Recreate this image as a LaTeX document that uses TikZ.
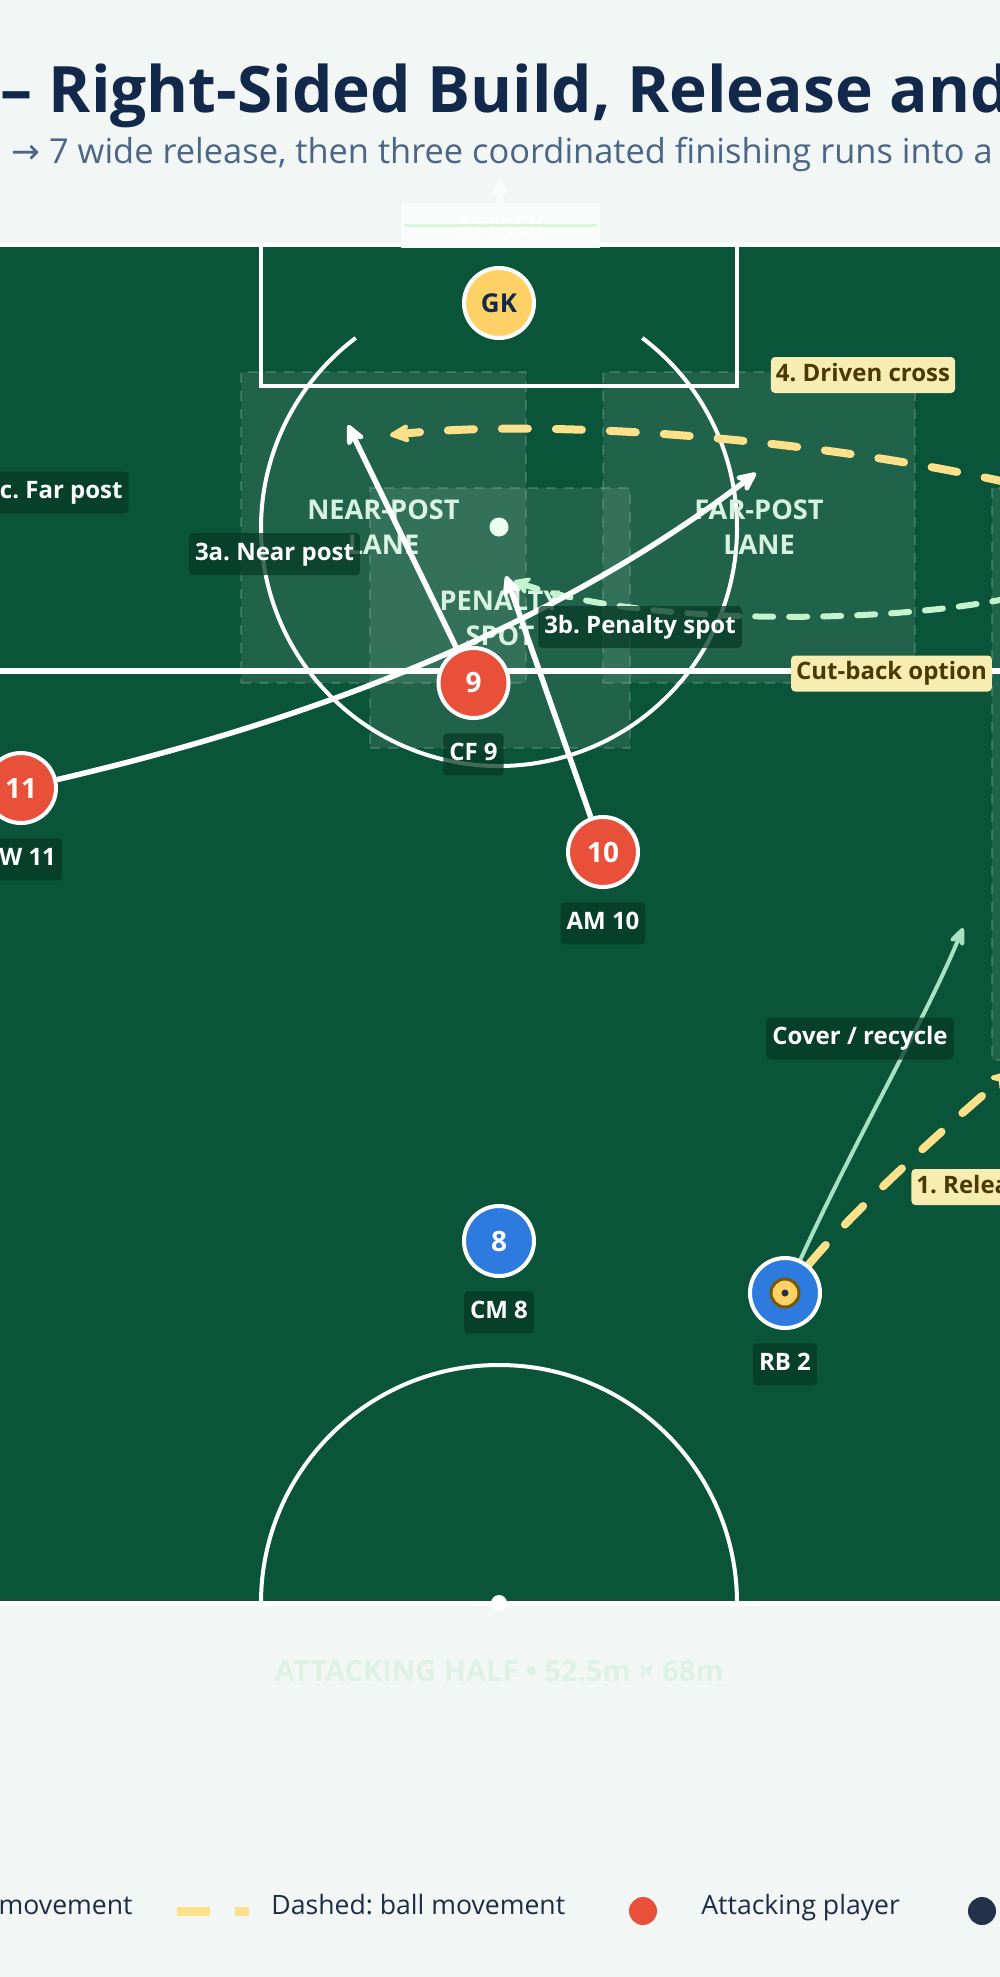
\documentclass[tikz,border=0pt]{standalone}
\usepackage{fontspec}
\setmainfont{Open Sans}
\newfontfamily\arrowfont{DejaVu Sans}
\usetikzlibrary{arrows.meta}
\usetikzlibrary{calc}
\usetikzlibrary{positioning}

\definecolor{paper}{HTML}{F2F6F5}
\definecolor{grass}{HTML}{0A5439}
\definecolor{navy}{HTML}{13294B}
\definecolor{slate}{HTML}{4C6687}
\definecolor{attred}{HTML}{E8503A}
\definecolor{midblue}{HTML}{2E7BE0}
\definecolor{keeper}{HTML}{FFD166}
\definecolor{ballyel}{HTML}{FDE08A}
\definecolor{cutgreen}{HTML}{C4F3CE}
\definecolor{covergreen}{HTML}{A6E1C1}
\definecolor{notefill}{HTML}{F8EDB0}
\definecolor{notetext}{HTML}{4A3900}
\definecolor{tagfill}{HTML}{073A26}
\definecolor{lanetext}{HTML}{D8F2E1}
\definecolor{halftext}{HTML}{DDF2E5}
\definecolor{legendtext}{HTML}{1D2C47}
\definecolor{defnavy}{HTML}{22324A}
\definecolor{balledge}{HTML}{7A5800}

\pgfdeclarelayer{back}
\pgfdeclarelayer{runs}
\pgfsetlayers{back,runs,main}

\begin{document}
\frenchspacing
\begin{tikzpicture}[x=0.5pt,y=-0.5pt,>={Stealth[length=13pt,width=12pt,round]},line join=round]
 \tikzstyle{player}=[circle, draw=white, line width=2pt, minimum size=35pt, inner sep=0pt, text=white, font=\bfseries\fontsize{14}{14}\selectfont]
 \tikzstyle{tag}=[fill=tagfill, fill opacity=0.75, text opacity=1, text=white, font=\bfseries\fontsize{12}{12}\selectfont, inner xsep=3pt, inner ysep=4.5pt, text height=9pt, text depth=3pt, rounded corners=2pt]
 \tikzstyle{note}=[fill=notefill, text=notetext, font=\bfseries\fontsize{12}{12}\selectfont, inner xsep=2.5pt, inner ysep=3pt, text height=9pt, text depth=3pt, rounded corners=2pt]
 \tikzstyle{lane}=[draw=white, draw opacity=0.16, dash pattern=on 5pt off 4pt, line width=1pt, fill=white, fill opacity=0.09, text opacity=1, text=lanetext, font=\bfseries\fontsize{13.6}{17.5}\selectfont, align=center, inner sep=0pt]
 \tikzstyle{pitchline}=[draw=white, line width=2pt]
 \tikzstyle{run}=[->, white, line width=2.75pt]
 \tikzstyle{pass}=[-{Stealth[length=13pt,width=12pt,round]}, ballyel, line width=4pt, line cap=round, dash pattern=on 13pt off 14pt]
 \tikzstyle{cutback}=[-{Stealth[length=10pt,width=11pt,round]}, cutgreen, line width=3pt, line cap=round, dash pattern=on 9pt off 8pt]
 \tikzstyle{cover}=[-{Stealth[length=12pt,width=10pt,round]}, covergreen, line width=2pt]
 \tikzstyle{legend}=[text=legendtext, font=\fontsize{13.3}{13.3}\selectfont, inner sep=0pt]

 \useasboundingbox (0,0) rectangle (1000,1977);
 \clip (0,0) rectangle (1000,1977);

 \begin{pgfonlayer}{back}
 \fill[paper] (0,0) rectangle (1000,1977);
 % pitch
 \filldraw[fill=grass, pitchline] (-10,245) rectangle (1010,1603);
 \draw[pitchline, line width=2.25pt] (261,245) -- (261,386) -- (737,386) -- (737,245);
 \draw[pitchline] (499,528) ++(-53:238) arc (-53:233:238);
 \draw[pitchline, line width=3pt] (-10,671) -- (1010,671);
 \draw[pitchline] (261,1603) arc (180:360:238);
 \draw[pitchline, line width=2.5pt] (-10,1603) -- (1010,1603);
 \fill[white!92!green] (499,527) circle (9.5);
 \fill[white] (499,1603) circle (8);
 % lanes
 \node[lane, minimum width=142.5pt, minimum height=155.5pt] (nearlane) at (383.5,527.5) {NEAR-POST\\LANE};
 \node[lane, minimum width=156pt, minimum height=155.5pt] (farlane) at (759,527.5) {FAR-POST\\LANE};
 \node[lane, minimum width=130pt, minimum height=130pt] (spotlane) at (500,618) {PENALTY\\SPOT};
 \path[lane] (992,488) rectangle (1040,1060);
 \end{pgfonlayer}

 % heading
 \node[anchor=base west, inner sep=0pt, text=navy, font=\bfseries\fontsize{32}{32}\selectfont] (title) at (0,112) {– Right-Sided Build, Release and};
 \node[anchor=base west, inner sep=0pt, text=slate, font=\fontsize{17.2}{17.2}\selectfont] (subtitle) at (11,163) {{\arrowfont →} 7 wide release, then three coordinated finishing runs into a};

 % attack marker
 \node[fill=white!60!paper, minimum width=99.5pt, minimum height=22.5pt, text=white, font=\bfseries\fontsize{12}{12}\selectfont] (attack) at (500.5,225.5) {ATTACK};
 \draw[green!10!paper, line width=1.5pt, shorten <=1.5pt, shorten >=1.5pt] (attack.west) -- (attack.east);
 \coordinate (attackup) at (499,178);
 \draw[-{Triangle[length=8pt,width=8pt]}, white!70!paper, line width=3pt] (attack.north) -- (attackup);

 % players
 \node[player, fill=keeper, text=navy, font=\bfseries\fontsize{13}{13}\selectfont] (gk) at (499,303) {GK};
 \node[player, fill=attred] (cf9) at (473.5,683) {9};
 \node[player, fill=attred] (am10) at (603,852) {10};
 \node[player, fill=attred] (lw11) at (21,788) {11};
 \node[player, fill=midblue] (cm8) at (499,1241) {8};
 \node[player, fill=midblue] (rb2) at (785,1293) {};
 \node[circle, fill=keeper, draw=balledge, line width=1.5pt, minimum size=14pt, inner sep=0pt] (ball) at (rb2.center) {};
 \fill[defnavy] (ball.center) circle (3.5);

 \node[tag, below=6.5pt of cf9] (cf9tag) {CF 9};
 \node[tag, below=6.5pt of am10] (am10tag) {AM 10};
 \node[tag, below=6.5pt of lw11] (lw11tag) {LW 11};
 \node[tag, below=6.5pt of cm8] (cm8tag) {CM 8};
 \node[tag, below=6.5pt of rb2] (rb2tag) {RB 2};

 % run ends
 \coordinate (nearpost) at (348,425);
 \coordinate (spotrun) at (506,576);
 \coordinate (farpost) at (756,473);
 \coordinate (crossstart) at (1010,483);
 \coordinate (crossend) at (390,435);
 \coordinate (cutstart) at (1010,598);
 \coordinate (cutend) at (514,581);
 \coordinate (coverend) at (963,928);
 \coordinate (releaseend) at (1010,1072);

 \begin{pgfonlayer}{runs}
 \draw[pass] (rb2) .. controls (850,1215) and (930,1140) .. (releaseend);
 \draw[cover] (rb2) .. controls (860,1130) and (925,1020) .. (coverend);
 \draw[pass] (crossstart) .. controls (820,440) and (560,418) .. (crossend);
 \draw[cutback] (cutstart) .. controls (880,625) and (640,625) .. (cutend);
 \draw[run] (cf9) -- (nearpost);
 \draw[run] (am10) -- (spotrun);
 \draw[run] (lw11) .. controls (270,730) and (530,645) .. (farpost);
 \end{pgfonlayer}

 % labels
 \node[tag] (neartag) at (274.5,554) {3a. Near post};
 \node[tag] (spottag) at (640,627) {3b. Penalty spot};
 \node[tag, anchor=east] (fartag) at (129,492.5) {3c. Far post};
 \node[tag] (covertag) at (860,1038.5) {Cover / recycle};
 \node[note] (crosstag) at (863,375) {4. Driven cross};
 \node[note] (cuttag) at (891.5,673.5) {Cut-back option};
 \node[note, anchor=west] (releasetag) at (911,1187) {1. Release};

 % footer
 \node[text=halftext, font=\bfseries\fontsize{14.5}{14.5}\selectfont] (half) at (499.5,1671) {ATTACKING HALF • 52.5m × 68m};
 \node[legend, anchor=base east] (legsolid) at (133,1914) {movement};
 \draw[ballyel, line width=4.5pt, dash pattern=on 16.5pt off 12.5pt] (177,1911) -- (249,1911);
 \node[legend, anchor=base west] (legdash) at (271,1914) {Dashed: ball movement};
 \fill[attred] (643,1911) circle (14);
 \node[legend, anchor=base west] (legatt) at (701,1914) {Attacking player};
 \fill[defnavy] (982,1911) circle (14);
\end{tikzpicture}
\end{document}
